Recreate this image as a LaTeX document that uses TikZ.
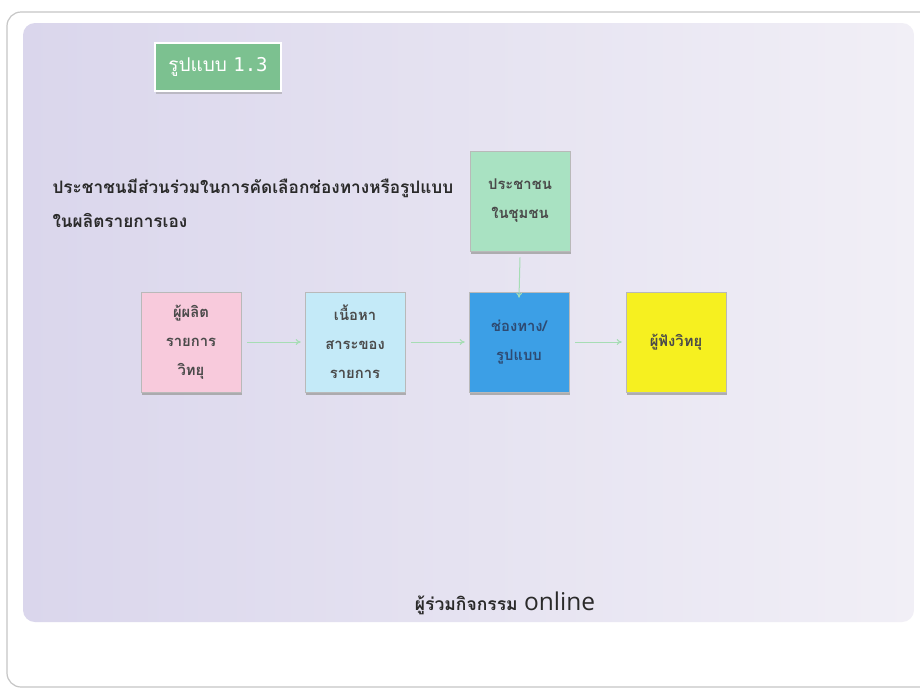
\documentclass[tikz,border=0pt]{standalone}
\usepackage{fontspec}
\newfontfamily\thai[Script=Thai]{Loma}
\newfontfamily\monof{DejaVu Sans Mono}
\setmainfont{Open Sans}
\usetikzlibrary{shadows,arrows.meta}
\definecolor{lav}{HTML}{DAD6EC}
\definecolor{lavr}{HTML}{F1EFF6}
\definecolor{ttl}{HTML}{7CC190}
\definecolor{cgreen}{HTML}{A9E2C2}
\definecolor{cpink}{HTML}{F8CADC}
\definecolor{ccyan}{HTML}{C4EAF8}
\definecolor{cblue}{HTML}{3C9FE6}
\definecolor{cyel}{HTML}{F6F020}
\definecolor{arr}{HTML}{A6DDB4}
\definecolor{txt}{HTML}{2A2A2A}
\definecolor{navy}{HTML}{2E4A72}
\tikzset{
  box/.style={draw=gray!55, line width=0.6pt, minimum width=100pt, minimum height=100pt,
    align=center, font=\thai\bfseries\fontsize{14.8}{29}\selectfont, text=txt!85,
    drop shadow={shadow xshift=1pt, shadow yshift=-2.5pt, fill=gray!75, opacity=0.8}},
  flow/.style={draw=arr, line width=1pt, -{To[length=5pt,width=6pt]}},
}
\begin{document}
\begin{tikzpicture}[x=1pt,y=-1pt]
\useasboundingbox (0,0) rectangle (920,689);
\fill[white] (0,0) rectangle (920,689);
% page frame
\draw[gray!45, line width=1.2pt, rounded corners=14pt] (7,12) rectangle (935,687);
% slide area
\shade[rounded corners=12pt, left color=lav, right color=lavr] (23,23) rectangle (914,622);
% title
\node[draw=white, line width=2pt, fill=ttl, minimum width=126pt, minimum height=48pt,
  text=white, font=\thai\fontsize{19}{22}\selectfont,
  drop shadow={shadow xshift=1pt, shadow yshift=-3pt, fill=gray!80}] (title) at (218,67) {รูปแบบ {\monof 1.3}};
% heading
\node[anchor=west, align=left, text=txt, font=\thai\bfseries\fontsize{17.2}{34}\selectfont] (head) at (49,203)
  {ประชาชนมีส่วนร่วมในการคัดเลือกช่องทางหรือรูปแบบ\\ในผลิตรายการเอง};
% boxes
\node[box, fill=cgreen] (comm) at (520,201) {ประชาชน\\ในชุมชน};
\node[box, fill=cpink] (prod) at (191,342) {ผู้ผลิต\\รายการ\\วิทยุ};
\node[box, fill=ccyan] (cont) at (355,342) {เนื้อหา\\สาระของ\\รายการ};
\node[box, fill=cblue, text=navy] (chan) at (519,342) {ช่องทาง/\\รูปแบบ};
\node[box, fill=cyel] (list) at (676,342) {ผู้ฟังวิทยุ};
% arrows
\draw[flow] (comm.south) ++(0,6) -- ([yshift=-6pt]chan.north);
\draw[flow] ([xshift=6pt]prod.east) -- ([xshift=-4pt]cont.west);
\draw[flow] ([xshift=6pt]cont.east) -- ([xshift=-4pt]chan.west);
\draw[flow] ([xshift=6pt]chan.east) -- ([xshift=-4pt]list.west);
% footer
\node[text=txt, font=\fontsize{24.5}{26}\selectfont] (foot) at (505,603)
  {{\thai\bfseries\fontsize{17.5}{20}\selectfont ผู้ร่วมกิจกรรม} online};
\end{tikzpicture}
\end{document}
